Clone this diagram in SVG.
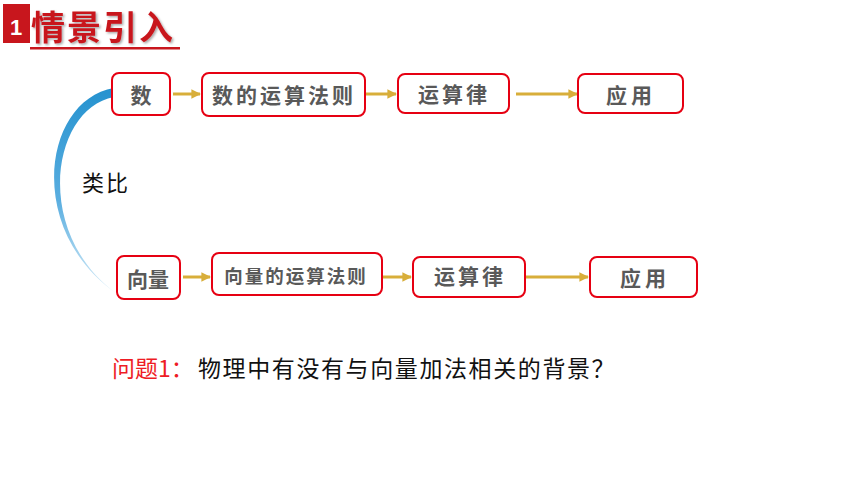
<svg xmlns="http://www.w3.org/2000/svg" width="860" height="484" viewBox="0 0 860 484">
<defs>
<linearGradient id="arcG" x1="0" y1="0" x2="0" y2="1">
<stop offset="0" stop-color="#2592cf"/>
<stop offset="0.55" stop-color="#5aaee0"/>
<stop offset="1" stop-color="#d6ecf8"/>
</linearGradient>
<marker id="ah" viewBox="0 0 10 10" refX="9" refY="5" markerWidth="3.2" markerHeight="3.2" orient="auto" markerUnits="strokeWidth">
<path d="M0,0 L10,5 L0,10 z" fill="#d8ae3a"/>
</marker>
<filter id="sh" x="-10%" y="-10%" width="130%" height="130%">
<feDropShadow dx="1.5" dy="1.5" stdDeviation="1" flood-color="#000" flood-opacity="0.35"/>
</filter>
</defs>
<style>
.box{fill:#fff;stroke:#e60012;stroke-width:2}
.lbl{font-family:"Noto Sans CJK SC","Noto Sans",sans-serif;fill:#595959;font-weight:bold;text-anchor:middle;dominant-baseline:central}
.conn{stroke:#d8ae3a;stroke-width:3;fill:none}
</style>
<rect width="860" height="484" fill="#fff"/>
<g id="title">
<rect x="3" y="4" width="27" height="39" fill="#c8161d"/>
<text x="16" y="35" font-family="Liberation Sans,Arial,sans-serif" font-size="22" font-weight="bold" fill="#fff" text-anchor="middle">1</text>
<text x="31" y="40" font-family="Noto Sans CJK SC,sans-serif" font-size="34" font-weight="bold" fill="#c8161d" letter-spacing="2" filter="url(#sh)">情景引入</text>
<rect x="30" y="47" width="150" height="2.5" fill="#c8161d"/>
</g>
<g id="connectors">
<path d="M114,88 C43,100 25,230 116,293 C32,232 52,108 114,97 Z" fill="url(#arcG)"/>
<line class="conn" x1="173" y1="94" x2="200" y2="94" marker-end="url(#ah)"/>
<line class="conn" x1="366" y1="94" x2="396" y2="94" marker-end="url(#ah)"/>
<line class="conn" x1="516" y1="94" x2="577" y2="94" marker-end="url(#ah)"/>
<line class="conn" x1="183" y1="277" x2="210" y2="277" marker-end="url(#ah)"/>
<line class="conn" x1="383" y1="277" x2="411" y2="277" marker-end="url(#ah)"/>
<line class="conn" x1="526" y1="277" x2="588" y2="277" marker-end="url(#ah)"/>
</g>
<g id="n-shu"><rect class="box" x="112" y="73" width="58" height="42" rx="7"/><text class="lbl" x="141" y="94" font-size="21">数</text></g>
<g id="n-shu-rule"><rect class="box" x="202" y="73" width="163" height="43" rx="7"/><text class="lbl" x="284" y="94" font-size="21" letter-spacing="3">数的运算法则</text></g>
<g id="n-shu-law"><rect class="box" x="398" y="74" width="111" height="39" rx="7"/><text class="lbl" x="454" y="93" font-size="21" letter-spacing="3">运算律</text></g>
<g id="n-shu-app"><rect class="box" x="578" y="74" width="105" height="39" rx="7"/><text class="lbl" x="631" y="94" font-size="21" letter-spacing="4">应用</text></g>
<g id="n-vec"><rect class="box" x="117" y="256" width="63" height="43" rx="7"/><text class="lbl" x="148" y="278" font-size="21">向量</text></g>
<g id="n-vec-rule"><rect class="box" x="212" y="253" width="170" height="42" rx="7"/><text class="lbl" x="296" y="275" font-size="18.5" letter-spacing="2">向量的运算法则</text></g>
<g id="n-vec-law"><rect class="box" x="413" y="257" width="112" height="40" rx="7"/><text class="lbl" x="470" y="275" font-size="21" letter-spacing="3">运算律</text></g>
<g id="n-vec-app"><rect class="box" x="590" y="257" width="107" height="40" rx="7"/><text class="lbl" x="645" y="277" font-size="21" letter-spacing="4">应用</text></g>
<g id="analogy"><text x="82" y="191" font-family="Noto Sans CJK SC,sans-serif" font-size="22" fill="#111" letter-spacing="2">类比</text></g>
<g id="question">
<text x="112" y="377" font-family="Noto Sans CJK SC,sans-serif" font-size="23" fill="#ee1c25">问题1：</text>
<text x="198" y="377" font-family="Noto Sans CJK SC,sans-serif" font-size="23" fill="#111" letter-spacing="1.6">物理中有没有与向量加法相关的背景？</text>
</g>
</svg>
